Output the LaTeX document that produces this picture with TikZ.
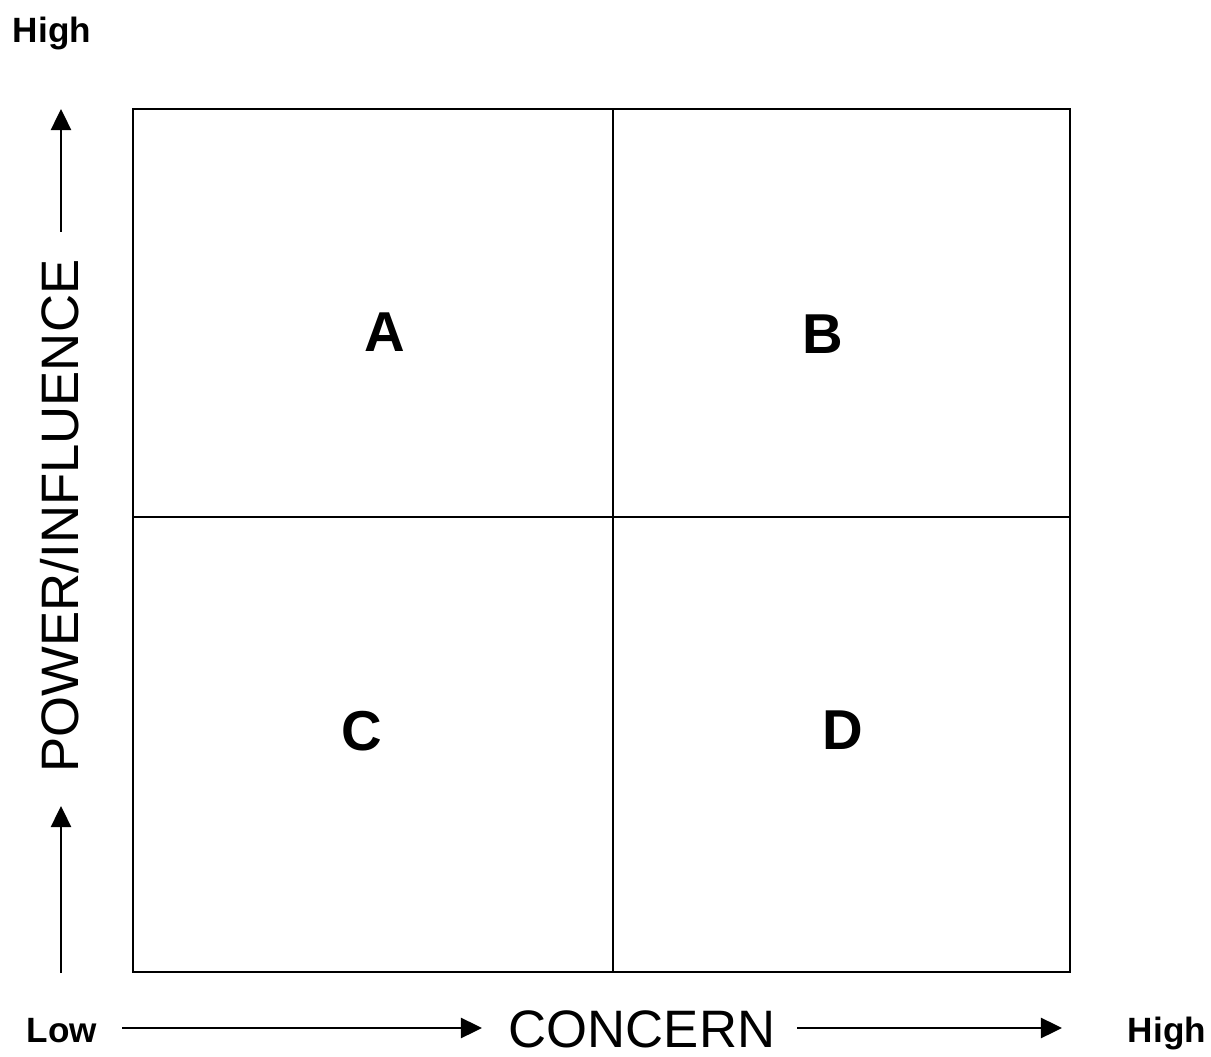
\documentclass[tikz,border=0pt]{standalone}
\usepackage{fontspec}
\setmainfont{Liberation Sans}
\usetikzlibrary{arrows.meta}

\begin{document}
\begin{tikzpicture}[
		x=0.02cm, y=-0.02cm,
		q/.style  = {font=\fontsize{32}{38}\selectfont\bfseries, inner sep=0pt},
		ax/.style = {font=\fontsize{30}{36}\selectfont, inner sep=0pt},
		lv/.style = {font=\fontsize{20}{24}\selectfont\bfseries, inner sep=0pt},
		g/.style  = {line width=1.1pt},
		r/.style  = {-{Triangle[length=12pt, width=11.5pt]}, line width=1.1pt}
		]
		\useasboundingbox (0,0) rectangle (1211,1057);
		
		% === === Grid === ===
		\coordinate	(nw)	at	(133, 109);
		\coordinate	(se)	at	(1070, 972);
		\coordinate	(mid-n)	at	(613, 109);
		\coordinate	(mid-s)	at	(613, 972);
		\coordinate	(mid-w)	at	(133, 517);
		\coordinate	(mid-e)	at	(1070, 517);
		
		\draw[g]	(nw)	rectangle	(se);
		\draw[g]	(mid-n)	--	(mid-s);
		\draw[g]	(mid-w)	--	(mid-e);
		
		% === === Nodes === ===
		\node[q]	(qa)	at	(385, 332)		{A};
		\node[q]	(qb)	at	(823, 334)		{B};
		\node[q]	(qc)	at	(362, 731)		{C};
		\node[q]	(qd)	at	(843, 730)		{D};
		
		\node[lv, anchor=base]	(hi-y)	at	(52, 43)		{High};
		\node[lv, anchor=base]	(lo)	at	(62, 1042)		{Low};
		\node[lv, anchor=base]	(hi-x)	at	(1167, 1042)	{High};
		
		\node[ax, anchor=base]				(concern)	at	(642, 1047)	{CONCERN};
		\node[ax, anchor=base, rotate=90]	(power)		at	(78, 516)	{POWER/INFLUENCE};
		
		% === === Arrows === ===
		\coordinate	(y1-s)	at	(61, 973);
		\coordinate	(y1-t)	at	(61, 806);
		\coordinate	(y2-s)	at	(61, 232);
		\coordinate	(y2-t)	at	(61, 109);
		\coordinate	(x1-s)	at	(122, 1028);
		\coordinate	(x1-t)	at	(482, 1028);
		\coordinate	(x2-s)	at	(797, 1028);
		\coordinate	(x2-t)	at	(1062, 1028);
		
		\draw[r]	(y1-s)	--	(y1-t);
		\draw[r]	(y2-s)	--	(y2-t);
		\draw[r]	(x1-s)	--	(x1-t);
		\draw[r]	(x2-s)	--	(x2-t);
		
	\end{tikzpicture}
\end{document}
